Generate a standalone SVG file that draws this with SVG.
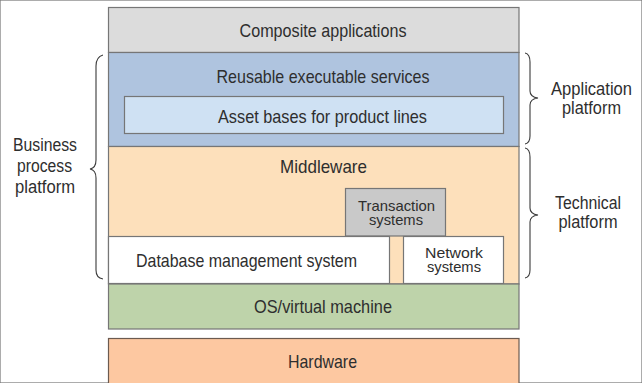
<svg xmlns="http://www.w3.org/2000/svg" width="642" height="383" viewBox="0 0 642 383">
<style>
rect{stroke:#767676;stroke-width:1.2}
text{font-family:"Liberation Sans Narrow","Liberation Sans",Arial,sans-serif;font-size:19px;fill:#2e2e2e;text-anchor:middle}
.sm{font-size:15px}
.side{font-size:17.5px}
.brace{fill:none;stroke:#3a3a3a;stroke-width:1.1}
</style>
<rect width="642" height="383" fill="#ffffff" stroke="none"/>
<g id="composite"><rect x="108.5" y="7.5" width="410.5" height="45" fill="#dcdcdc"/><text x="323" y="36.7" textLength="167" lengthAdjust="spacingAndGlyphs">Composite applications</text></g>
<g id="reusable"><rect x="108.5" y="52.5" width="410.5" height="94" fill="#afc4df"/><text x="323" y="83.3" textLength="213" lengthAdjust="spacingAndGlyphs">Reusable executable services</text></g>
<g id="asset"><rect x="124.5" y="96.5" width="379" height="37" fill="#cfe1f3"/><text x="322.5" y="123.3" textLength="209" lengthAdjust="spacingAndGlyphs">Asset bases for product lines</text></g>
<g id="middleware"><rect x="108.5" y="146.5" width="410.5" height="137.5" fill="#fde0bb"/><text x="323.5" y="173.3" textLength="87" lengthAdjust="spacingAndGlyphs">Middleware</text></g>
<g id="transaction"><rect x="345.5" y="188.5" width="100" height="47.5" fill="#c9c9c9"/><text class="sm" x="396.5" y="211.2" textLength="77" lengthAdjust="spacingAndGlyphs">Transaction</text><text class="sm" x="396" y="225" textLength="54" lengthAdjust="spacingAndGlyphs">systems</text></g>
<g id="dbms"><rect x="108.5" y="236.5" width="281" height="47" fill="#ffffff"/><text x="246.5" y="266.7" textLength="221" lengthAdjust="spacingAndGlyphs">Database management system</text></g>
<g id="network"><rect x="403.5" y="236.5" width="100" height="47" fill="#ffffff"/><text class="sm" x="454" y="258" textLength="58" lengthAdjust="spacingAndGlyphs">Network</text><text class="sm" x="454" y="272" textLength="54" lengthAdjust="spacingAndGlyphs">systems</text></g>
<g id="os"><rect x="108.5" y="284" width="410.5" height="45" fill="#bed3aa"/><text x="323" y="313.3" textLength="138" lengthAdjust="spacingAndGlyphs">OS/virtual machine</text></g>
<g id="hardware"><rect x="108.5" y="338.5" width="410.5" height="50" fill="#fdc8a1" style="stroke:#6b5a50"/><text x="322.5" y="368.3" textLength="69" lengthAdjust="spacingAndGlyphs">Hardware</text></g>
<g id="braces">
<path class="brace" d="M103,55 Q96,57 96,66 L96,160 Q96,168 90,169 Q96,170 96,178 L96,270 Q96,278 103,279"/>
<path class="brace" d="M525,53 Q530,54 530,62 L530,91 Q530,97 538,98 Q530,99 530,105 L530,136 Q530,143 525,144"/>
<path class="brace" d="M525,148 Q530,149 530,157 L530,208 Q530,214 538,215 Q530,216 530,222 L530,270 Q530,277 525,278"/>
</g>
<g id="business-label"><text class="side" x="45" y="151" textLength="64" lengthAdjust="spacingAndGlyphs">Business</text><text class="side" x="44.5" y="172" textLength="55" lengthAdjust="spacingAndGlyphs">process</text><text class="side" x="45" y="193" textLength="60" lengthAdjust="spacingAndGlyphs">platform</text></g>
<g id="application-label"><text class="side" x="591.5" y="95" textLength="81" lengthAdjust="spacingAndGlyphs">Application</text><text class="side" x="591.5" y="114" textLength="59" lengthAdjust="spacingAndGlyphs">platform</text></g>
<g id="technical-label"><text class="side" x="588" y="209" textLength="66" lengthAdjust="spacingAndGlyphs">Technical</text><text class="sm side" x="588" y="228" textLength="59" lengthAdjust="spacingAndGlyphs">platform</text></g>
</svg>
